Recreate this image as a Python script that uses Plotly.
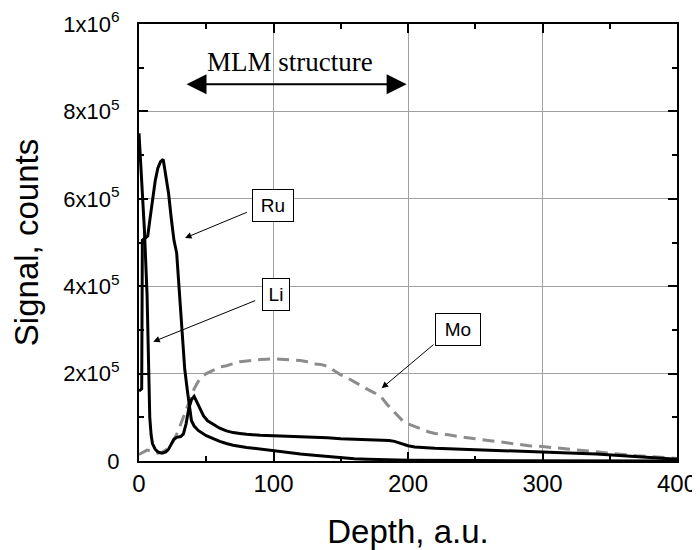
import plotly.graph_objects as go

# ---- data ----
li_depth = [0, 2, 4, 6, 7, 8, 9, 10, 12, 14, 17, 20, 22, 24, 26, 28, 31, 33, 35, 37, 39, 41, 43, 45, 48, 51,
            55, 60, 65, 70, 75, 80, 90, 100, 110, 120, 130, 140, 150, 160, 170, 180, 186, 190, 195, 200,
            205, 210, 220, 240, 260, 280, 300, 320, 340, 360, 380, 400]
li_signal = [750000, 640000, 530000, 380000, 230000, 100000, 60000, 40000, 27000, 21000, 18000, 21000, 27000,
             40000, 50000, 54000, 56000, 62000, 85000, 120000, 140000, 148000, 135000, 120000, 103000, 92000,
             84000, 75000, 69000, 65000, 63000, 61000, 59000, 58000, 57000, 56000, 54000, 53000, 51000, 50000,
             48000, 47000, 47000, 45000, 40000, 35000, 32000, 31000, 29000, 27000, 25000, 23000, 21000, 19000,
             16000, 12000, 8000, 4000]

ru_depth = [0, 2, 2.5, 5, 6.5, 8, 10, 12, 14, 16, 18, 20, 22, 24, 26, 28, 29, 30, 32, 34, 36, 37, 39, 41, 44,
            50, 56, 60, 65, 70, 80, 90, 100, 110, 120, 130, 140, 150, 160, 170, 180, 200, 250, 300, 400]
ru_signal = [160000, 165000, 505000, 510000, 515000, 550000, 600000, 640000, 670000, 685000, 690000, 650000,
             612000, 555000, 505000, 476000, 430000, 390000, 300000, 210000, 160000, 135000, 92000, 80000,
             70000, 58000, 50000, 45000, 40000, 36000, 31000, 27000, 23000, 20000, 16000, 13000, 10000, 7000,
             5000, 4000, 3000, 2000, 1000, 500, 0]

mo_depth = [0, 3, 6, 10, 14, 17, 20, 23, 26, 29, 32, 35, 38, 41, 44, 47, 50, 55, 60, 65, 70, 75, 80, 85, 90,
            95, 100, 105, 110, 115, 120, 125, 130, 135, 140, 145, 150, 155, 160, 165, 170, 175, 180, 184, 188,
            192, 196, 200, 204, 210, 215, 220, 230, 240, 250, 260, 270, 280, 290, 300, 310, 320, 330, 340,
            350, 360, 370, 380, 390, 400]
mo_signal = [15000, 20000, 25000, 22000, 18000, 20000, 25000, 35000, 48000, 68000, 92000, 118000, 142000,
             165000, 182000, 193000, 200000, 208000, 215000, 218000, 222000, 227000, 229000, 231000, 232000,
             233000, 234000, 233000, 232000, 231000, 230000, 227000, 222000, 221000, 217000, 207000, 197000,
             190000, 181000, 172000, 164000, 156000, 147000, 131000, 118000, 105000, 92000, 85000, 80000,
             72000, 67000, 63000, 60000, 55000, 51000, 47000, 43000, 38000, 35000, 33000, 30000, 27000,
             24000, 20000, 17000, 14000, 12000, 10000, 8000, 6000]

x_ticks = [0, 100, 200, 300, 400]
y_ticks = [0, 200000, 400000, 600000, 800000, 1000000]
y_ticktext = ["0", "2x10<sup>5</sup>", "4x10<sup>5</sup>", "6x10<sup>5</sup>", "8x10<sup>5</sup>",
              "1x10<sup>6</sup>"]

FONT = "Liberation Sans, Arial, sans-serif"

fig = go.Figure()
fig.add_trace(go.Scatter(x=mo_depth, y=mo_signal, mode="lines", name="Mo",
                         line=dict(color="#8c8c8c", width=3, dash="12px,7px")))
fig.add_trace(go.Scatter(x=ru_depth, y=ru_signal, mode="lines", name="Ru",
                         line=dict(color="black", width=3)))
fig.add_trace(go.Scatter(x=li_depth, y=li_signal, mode="lines", name="Li",
                         line=dict(color="black", width=3)))

axis_common = dict(
    showline=True, linecolor="black", linewidth=2, mirror="ticks",
    ticks="inside", ticklen=9, tickwidth=1.5, tickcolor="black",
    showgrid=True, gridcolor="#a0a0a0", gridwidth=1, zeroline=False,
    automargin=False,
)

# page body has an 8px margin, so the figure is sized to fit the 700x550 window
fig.update_layout(
    width=692, height=542,
    margin=dict(l=131, r=23, t=16, b=89),
    paper_bgcolor="white", plot_bgcolor="white",
    showlegend=False,
    font=dict(family=FONT, color="black"),
    xaxis=dict(range=[0, 400], tickvals=x_ticks, ticktext=[str(v) for v in x_ticks],
               tickfont=dict(family=FONT, size=24, color="black"),
               minor=dict(ticks="inside", ticklen=5, tickwidth=1.5, tickcolor="black", dtick=50, tick0=0,
                          showgrid=False),
               title=dict(text="Depth, a.u.", font=dict(family=FONT, size=33, color="black"), standoff=33),
               **axis_common),
    yaxis=dict(range=[0, 1000000], tickvals=y_ticks, ticktext=y_ticktext,
               tickfont=dict(family=FONT, size=22, color="black"), ticklabelstandoff=13,
               minor=dict(ticks="inside", ticklen=5, tickwidth=1.5, tickcolor="black", dtick=100000, tick0=0,
                          showgrid=False),
               title=dict(text="Signal, counts", font=dict(family=FONT, size=33, color="black"), standoff=16),
               **axis_common),
)

# labelled boxes
for txt, x, y, w in [("Ru", 99.8, 585000, 32), ("Li", 101.5, 381000, 18), ("Mo", 237, 300000, 36)]:
    fig.add_annotation(x=x, y=y, xref="x", yref="y", text=txt, showarrow=False,
                       font=dict(family=FONT, size=19, color="black"),
                       bordercolor="black", borderwidth=1, borderpad=4, bgcolor="white",
                       width=w, height=23)

# pointer arrows (head x,y ; tail ax,ay)
for hx, hy, tx, ty in [(34.2, 510300, 81.3, 570500), (10.6, 273000, 87.5, 368400), (180.4, 166400, 220.1, 269300)]:
    fig.add_annotation(x=hx, y=hy, ax=tx, ay=ty, xref="x", yref="y", axref="x", ayref="y", text="",
                       showarrow=True, arrowhead=2, arrowsize=1.3, arrowwidth=1, arrowcolor="black")

# MLM structure double arrow
fig.add_annotation(x=199, y=862300, ax=34.2, ay=862300, xref="x", yref="y", axref="x", ayref="y", text="",
                   showarrow=True, arrowside="end+start", arrowhead=2, startarrowhead=2,
                   arrowsize=2, startarrowsize=2, arrowwidth=2, arrowcolor="black")
fig.add_annotation(x=112.3, y=913000, xref="x", yref="y", text="MLM structure", showarrow=False,
                   font=dict(family="Liberation Serif, Times New Roman, serif", size=27, color="black"))

fig.write_html("out.html")
